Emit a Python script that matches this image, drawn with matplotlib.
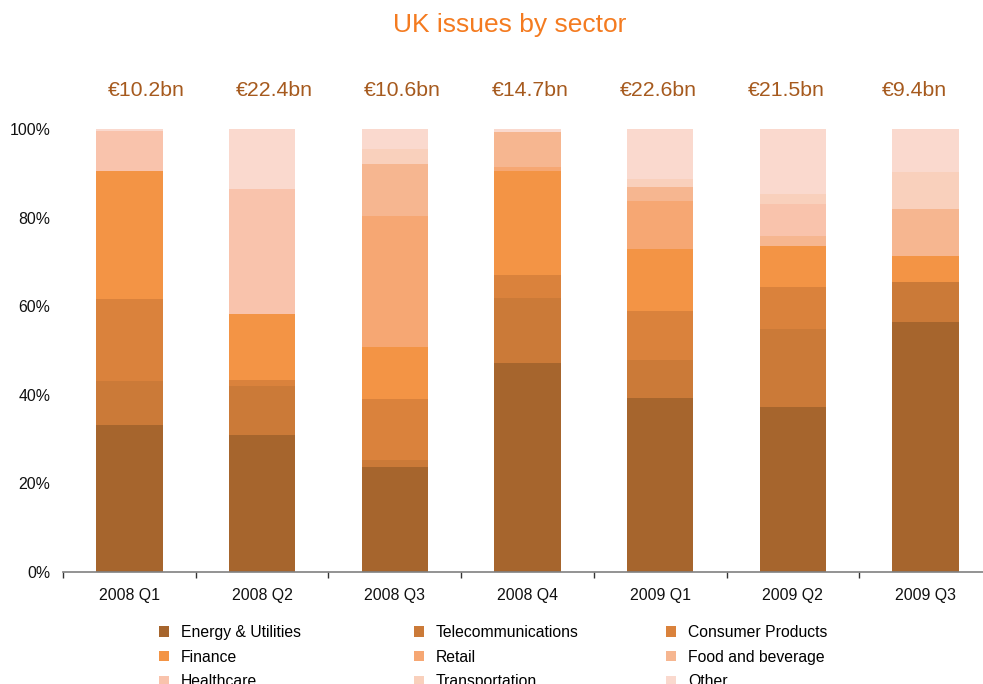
import numpy as np
import matplotlib.pyplot as plt
from matplotlib.patches import Patch
from matplotlib.ticker import FixedLocator, PercentFormatter

plt.rcParams['font.family'] = ['Liberation Sans', 'DejaVu Sans']

quarters = ['2008 Q1', '2008 Q2', '2008 Q3', '2008 Q4', '2009 Q1', '2009 Q2', '2009 Q3']
totals = ['€10.2bn', '€22.4bn', '€10.6bn', '€14.7bn', '€22.6bn', '€21.5bn', '€9.4bn']

sectors = ['Energy & Utilities', 'Telecommunications', 'Consumer Products',
           'Finance', 'Retail', 'Food and beverage',
           'Healthcare', 'Transportation', 'Other']
colors = ['#A6652D', '#CB7A38', '#DA823C', '#F39445', '#F6A773', '#F6B690',
          '#F9C3AC', '#F9D0BC', '#FAD9CE']

# share of issuance per sector (%), one value per quarter
energy = [33.2, 30.9, 23.7, 47.2, 39.3, 37.2, 56.4]
telecom = [10.0, 11.1, 1.6, 14.7, 8.6, 17.7, 9.1]
consumer = [18.4, 1.3, 13.8, 5.1, 11.0, 9.4, 0.0]
finance = [28.9, 14.9, 11.7, 23.5, 14.0, 9.3, 5.8]
retail = [0.0, 0.0, 29.6, 0.9, 10.8, 0.0, 0.0]
food = [0.0, 0.0, 11.7, 7.9, 3.2, 2.2, 10.6]
healthcare = [9.0, 28.3, 0.0, 0.0, 0.0, 7.2, 0.0]
transport = [0.0, 0.0, 3.4, 0.0, 1.8, 2.3, 8.4]
other = [0.5, 13.5, 4.5, 0.7, 11.3, 14.7, 9.7]

shares = [energy, telecom, consumer, finance, retail, food, healthcare, transport, other]

fig = plt.figure(figsize=(9.83, 6.84), dpi=100)
ax = fig.add_axes([0.0641, 0.1637, 0.945, 0.6477])

x = np.arange(len(quarters))
bottom = np.zeros(len(quarters))
for vals, c in zip(shares, colors):
    ax.bar(x, vals, 0.5, bottom=bottom, color=c, linewidth=0)
    bottom += np.array(vals)

ax.set_xlim(-0.5, len(quarters) - 0.5)
ax.set_ylim(0, 100)
ax.set_yticks([0, 20, 40, 60, 80, 100])
ax.yaxis.set_major_formatter(PercentFormatter(decimals=0))
ax.set_xticks(x)
ax.set_xticklabels(quarters)
ax.xaxis.set_minor_locator(FixedLocator(np.arange(-0.5, len(quarters), 1.0)))

for s in ['top', 'right', 'left']:
    ax.spines[s].set_visible(False)
ax.spines['bottom'].set_color('#808080')
ax.spines['bottom'].set_linewidth(1.2)
ax.tick_params(axis='y', length=0, pad=9, labelsize=11.4, colors='#111111')
ax.tick_params(axis='x', which='major', length=0, pad=11.5, labelsize=11.4, colors='#111111')
ax.tick_params(axis='x', which='minor', length=4, width=1, color='#333333', direction='out')

# deal size totals above each bar
for i, t in enumerate(totals):
    ax.text(i * 0.965 + 0.125, 1.088, t, transform=ax.get_xaxis_transform(),
            ha='center', va='center', fontsize=15.3, color='#A65A1E')

fig.text(0.518, 0.963, 'UK issues by sector', ha='center', va='center',
         fontsize=19, color='#F47B20')

# legend: three columns of three, laid out row by row
handles = [Patch(facecolor=c, edgecolor='none') for c in colors]
col_x = [159, 414, 666]
for j in range(3):
    idx = [j, j + 3, j + 6]
    fig.legend([handles[k] for k in idx], [sectors[k] for k in idx],
               loc='upper left', bbox_to_anchor=(col_x[j] / 983, 1 - 625 / 684),
               frameon=False, fontsize=11.3, handlelength=0.65, handleheight=0.65,
               handletextpad=0.75, labelspacing=0.62, borderpad=0, borderaxespad=0)

fig.savefig('out.png', dpi=100)
